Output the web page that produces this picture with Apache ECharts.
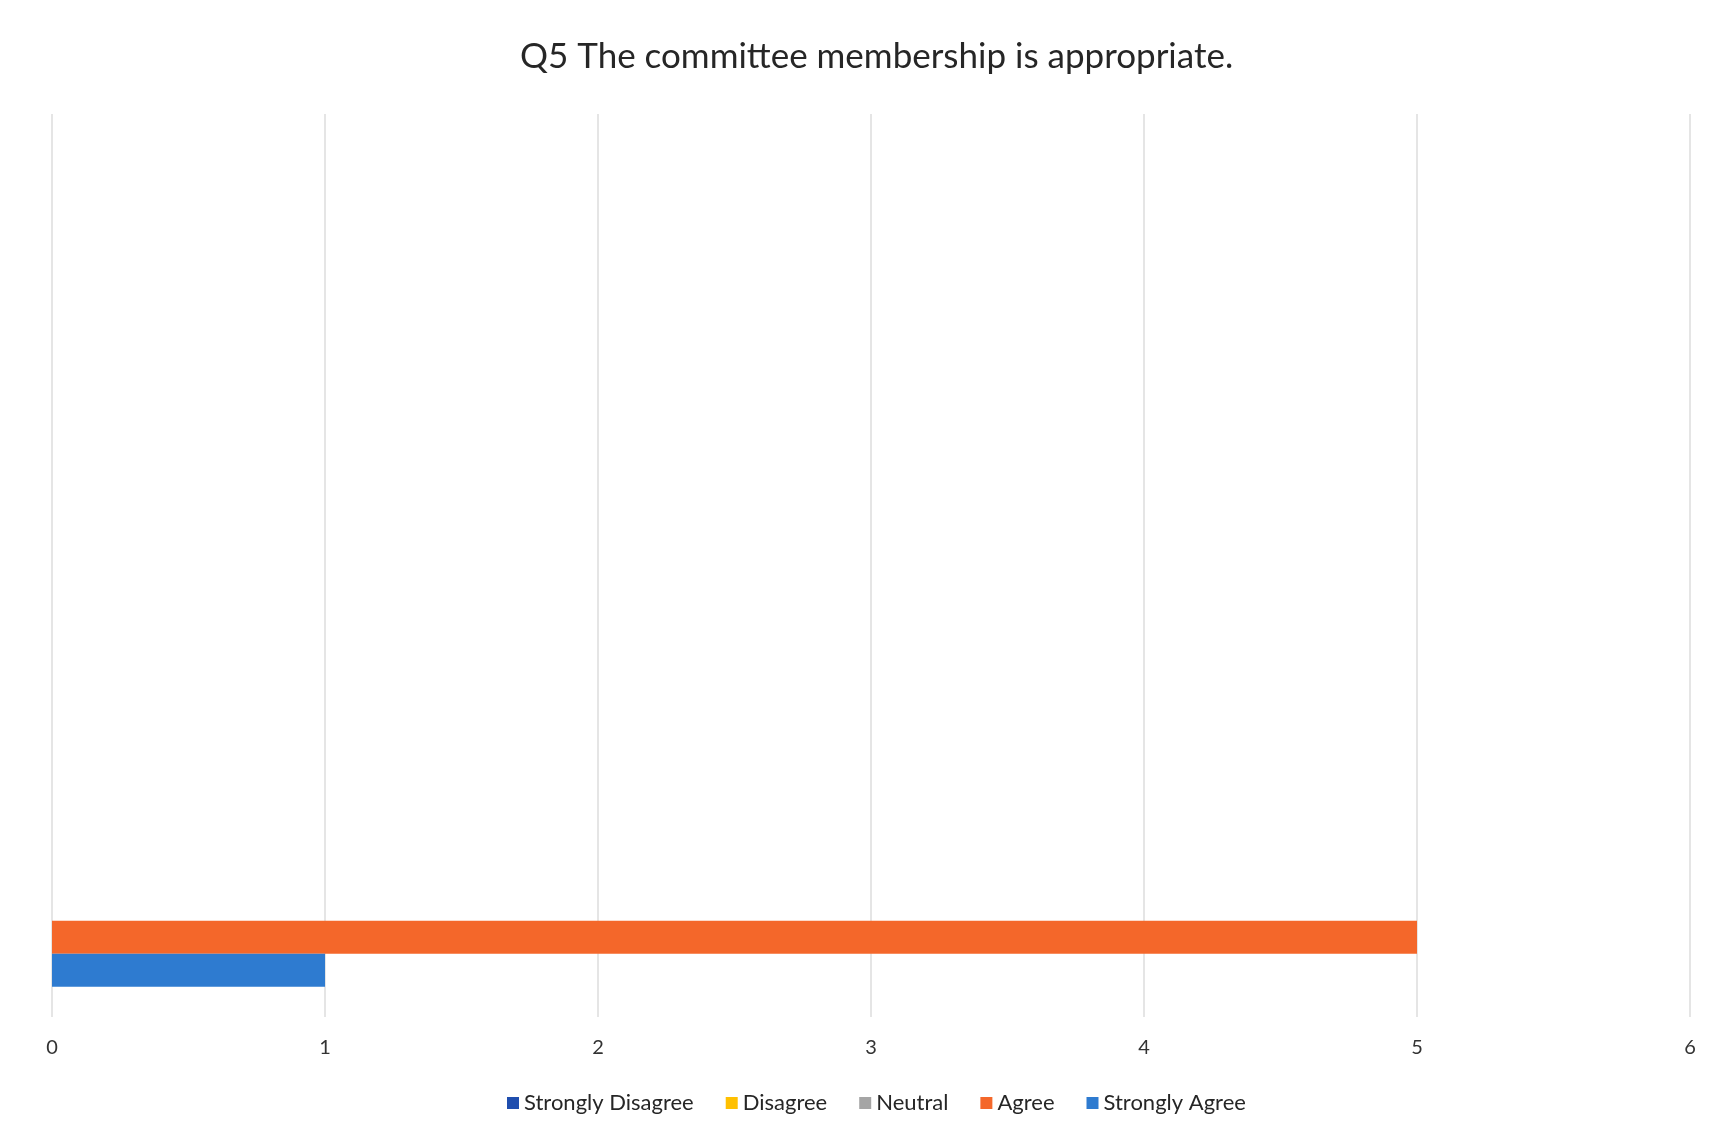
<!DOCTYPE html>
<html>
<head>
<meta charset="utf-8">
<script src="https://cdn.jsdelivr.net/npm/echarts@6/dist/echarts.min.js"></script>
<style>
html,body{margin:0;padding:0;background:#fff;}
#chart{width:1728px;height:1139px;}
</style>
</head>
<body>
<div id="chart"></div>
<script>
// Data
var titleText = 'Q5 The committee membership is appropriate.';
var categories = ['', '', '', ''];
var seriesNames = ['Strongly Disagree', 'Disagree', 'Neutral', 'Agree', 'Strongly Agree'];
var stronglyDisagree = [null, null, null, 0];
var disagree = [null, null, null, 0];
var neutral = [null, null, null, 0];
var agree = [null, null, null, 5];
var stronglyAgree = [null, null, null, 1];
var xTicks = [0, 1, 2, 3, 4, 5, 6];
var colors = ['#1F4EAE', '#FFC000', '#A5A5A5', '#F4672A', '#2E7BD0'];

var values = [stronglyDisagree, disagree, neutral, agree, stronglyAgree];
var FONT = 'Lato';

var chart = echarts.init(document.getElementById('chart'), null, {renderer: 'canvas'});
chart.setOption({
  backgroundColor: '#ffffff',
  animation: false,
  color: colors,
  title: {
    text: titleText,
    left: 515,
    top: 34,
    textStyle: {fontFamily: FONT, fontSize: 35, fontWeight: 'normal', color: '#262626'}
  },
  legend: {
    data: seriesNames,
    bottom: 20,
    left: 502,
    itemWidth: 12,
    itemHeight: 12,
    itemGap: 32,
    icon: 'rect',
    textStyle: {fontFamily: FONT, fontSize: 22, color: '#262626', padding: [0, 0, 0, 0]}
  },
  grid: {left: 52, right: 38, top: 114, bottom: 122, containLabel: false},
  xAxis: {
    type: 'value',
    min: xTicks[0],
    max: xTicks[xTicks.length - 1],
    interval: 1,
    axisLine: {show: false},
    axisTick: {show: false},
    splitLine: {show: true, lineStyle: {color: '#DCDCDC', width: 1.5}},
    axisLabel: {fontFamily: FONT, fontSize: 20, color: '#333333', margin: 21}
  },
  yAxis: {
    type: 'category',
    data: categories,
    inverse: true,
    axisLine: {show: false},
    axisTick: {show: false},
    axisLabel: {show: false},
    splitLine: {show: false}
  },
  series: seriesNames.map(function (n, i) {
    return {
      name: n,
      type: 'bar',
      data: values[i],
      barGap: '0%',
      barCategoryGap: '26.7%'
    };
  })
});
</script>
</body>
</html>
